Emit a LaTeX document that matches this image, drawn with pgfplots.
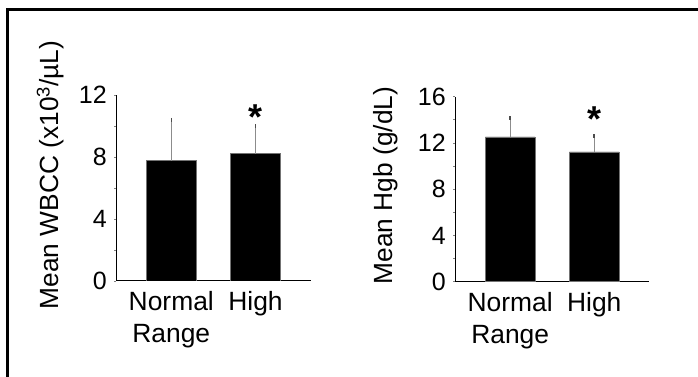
\documentclass[border=0pt]{standalone}
\usepackage{fontspec}
\setmainfont{Liberation Sans}
\usepackage{pgfplots}
\pgfplotsset{compat=1.18}
\pgfplotsset{
  mybar/.style={
    scale only axis,
    axis lines=left,
    axis line style={-, line width=1pt},
    xmin=-0.656, xmax=1.655,
    ymin=0,
    xtick={0,1},
    xticklabels={{Normal\\Range},High},
    major x tick style={draw=none},
    xticklabel style={align=center, font=\fontsize{26.4}{32}\selectfont, inner sep=0pt, yshift=-8pt},
    yticklabel style={font=\fontsize{25}{28}\selectfont, inner sep=0pt, xshift=-7pt},
    ytick style={line width=0.8pt},
    minor y tick num=1,
    tick align=outside,
    major tick length=2pt, minor tick length=2pt,
    /pgf/number format/assume math mode=true,
  },
  mybars/.style={ybar, bar width=0.59, fill=black, draw=black!55, line width=0.8pt,
    error bars/.cd, y dir=plus, y explicit,
    error bar style={black!45, line width=1.2pt},
    error mark options={black!70, mark size=2pt, line width=1.5pt}},
}
\begin{document}
\begin{tikzpicture}
\useasboundingbox (0pt,0pt) rectangle (698pt,377pt);
\draw[line width=3pt] (7.7pt,-2pt) -- (7.7pt,367pt) -- (700pt,367pt);
\begin{axis}[mybar, at={(116pt,96pt)}, anchor=south west, width=194.7pt, height=186pt,
  ymax=12, ytick={0,4,8,12},
  ylabel={Mean WBCC (x10\textsuperscript{3}/µL)},
  every axis y label/.style={at={(axis description cs:-0.337,0.57)}, rotate=90, anchor=center, font=\fontsize{26.3}{30}\selectfont}]
\addplot[mybars] coordinates {(0,7.76) +- (0,2.63) (1,8.21) +- (0,1.77)};
\node[font=\fontsize{36}{36}\selectfont\bfseries, anchor=base] at (axis cs:1,9.78) {*};
\end{axis}
\begin{axis}[mybar, at={(455pt,95.3pt)}, anchor=south west, width=194.3pt, height=185pt,
  ymax=16, ytick={0,4,8,12,16},
  ylabel={Mean Hgb (g/dL)},
  every axis y label/.style={at={(axis description cs:-0.355,0.52)}, rotate=90, anchor=center, font=\fontsize{26.3}{30}\selectfont}]
\addplot[mybars] coordinates {(0,12.52) +- (0,1.61) (1,11.22) +- (0,1.36)};
\node[font=\fontsize{36}{36}\selectfont\bfseries, anchor=base] at (axis cs:1,12.95) {*};
\end{axis}
\end{tikzpicture}
\end{document}
